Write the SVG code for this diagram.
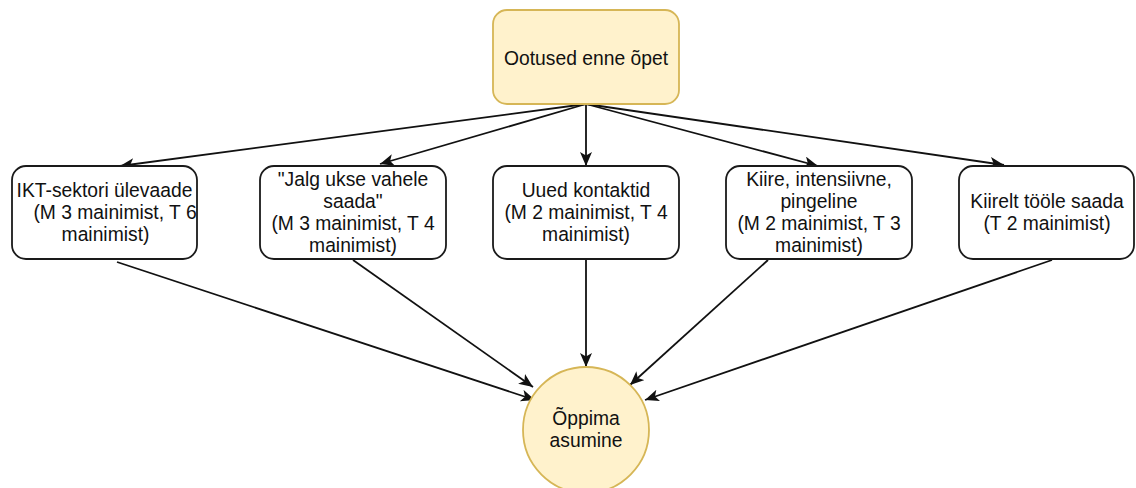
<svg xmlns="http://www.w3.org/2000/svg" width="1136" height="488" viewBox="0 0 1136 488">
<style>
.box{fill:#ffffff;stroke:#1a1a1a;stroke-width:1.8}
.yel{fill:#fff2cc;stroke:#d6b656;stroke-width:1.8}
.t{font-family:"Liberation Sans",Arial,sans-serif;font-size:19.3px;fill:#111111;text-anchor:middle}
.e{fill:none;stroke:#111111;stroke-width:1.8;marker-end:url(#arr)}
</style>
<defs>
<marker id="arr" markerUnits="userSpaceOnUse" markerWidth="16" markerHeight="14" refX="14" refY="6" orient="auto">
<path d="M0,0 L14,6 L0,12 L3.5,6 Z" fill="#111111"/>
</marker>
</defs>
<rect width="1136" height="488" fill="#ffffff"/>
<g id="connectors">
<path class="e" d="M586,104 L120,166"/>
<path class="e" d="M586,104 L380,164"/>
<path class="e" d="M586,104 L586,166"/>
<path class="e" d="M586,104 L818,166"/>
<path class="e" d="M586,104 L1004,165"/>
<path class="e" d="M117,262 L535,400"/>
<path class="e" d="M353,260 L533,387"/>
<path class="e" d="M586,259 L586,367"/>
<path class="e" d="M768,260 L630,385"/>
<path class="e" d="M1052,260 L645,400"/>
</g>
<g id="n0">
<rect class="yel" x="493" y="10" width="186" height="94" rx="14"/>
<text class="t" x="586" y="65">Ootused enne õpet</text>
</g>
<g id="n1">
<rect class="box" x="12" y="166" width="185" height="93" rx="14"/>
<text class="t" x="104.5" y="197">IKT-sektori ülevaade</text>
<text class="t" x="115" y="219">(M 3 mainimist, T 6</text>
<text class="t" x="105.5" y="241">mainimist)</text>
</g>
<g id="n2">
<rect class="box" x="260" y="166" width="186" height="93" rx="14"/>
<text class="t" x="353" y="186">"Jalg ukse vahele</text>
<text class="t" x="353" y="208">saada"</text>
<text class="t" x="353" y="230">(M 3 mainimist, T 4</text>
<text class="t" x="353" y="252">mainimist)</text>
</g>
<g id="n3">
<rect class="box" x="493" y="166" width="186" height="93" rx="14"/>
<text class="t" x="586" y="197">Uued kontaktid</text>
<text class="t" x="586" y="219">(M 2 mainimist, T 4</text>
<text class="t" x="586" y="241">mainimist)</text>
</g>
<g id="n4">
<rect class="box" x="726" y="166" width="186" height="93" rx="14"/>
<text class="t" x="819" y="186">Kiire, intensiivne,</text>
<text class="t" x="819" y="208">pingeline</text>
<text class="t" x="819" y="230">(M 2 mainimist, T 3</text>
<text class="t" x="819" y="252">mainimist)</text>
</g>
<g id="n5">
<rect class="box" x="959" y="166" width="175" height="93" rx="14"/>
<text class="t" x="1047" y="208">Kiirelt tööle saada</text>
<text class="t" x="1047" y="230">(T 2 mainimist)</text>
</g>
<g id="n6">
<circle class="yel" cx="586" cy="430" r="63"/>
<text class="t" x="586" y="425">Õppima</text>
<text class="t" x="586" y="447">asumine</text>
</g>
</svg>
